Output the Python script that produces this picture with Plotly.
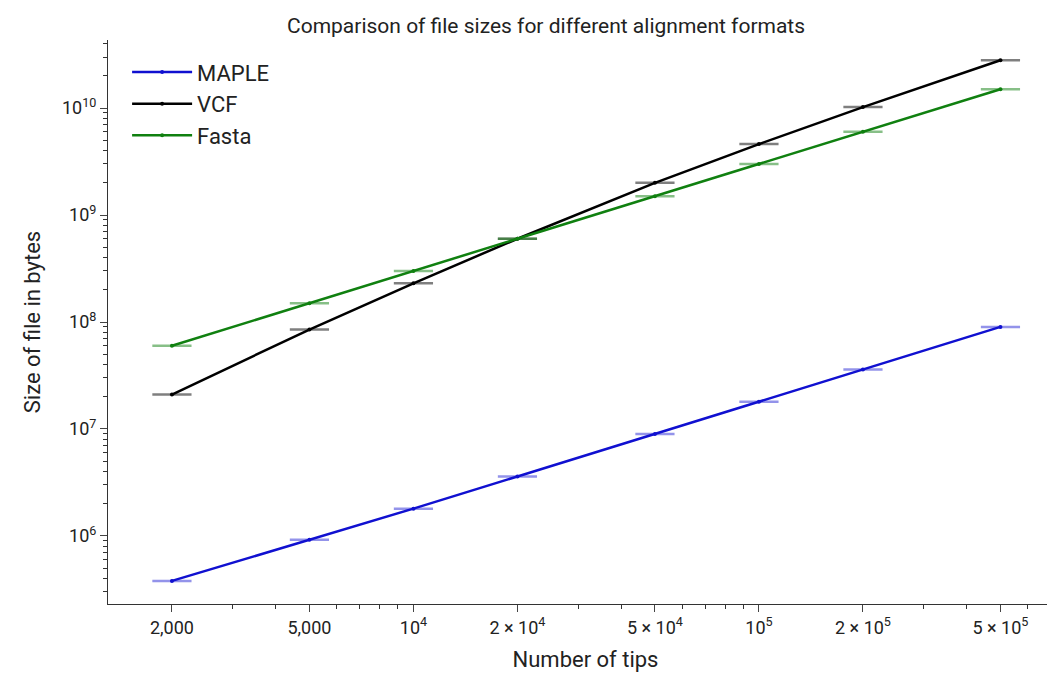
import plotly.graph_objects as go

tips = [2000, 5000, 10000, 20000, 50000, 100000, 200000, 500000]
maple = [3.8e5, 9.2e5, 1.8e6, 3.6e6, 9.0e6, 1.8e7, 3.6e7, 9.0e7]
vcf = [2.1e7, 8.5e7, 2.3e8, 6.0e8, 2.0e9, 4.6e9, 1.02e10, 2.8e10]
fasta = [6.0e7, 1.5e8, 3.0e8, 6.0e8, 1.5e9, 3.0e9, 6.0e9, 1.5e10]
x_ticks = [2000, 5000, 10000, 20000, 50000, 100000, 200000, 500000]
x_labels = ["2,000", "5,000", "10<sup>4</sup>", "2 × 10<sup>4</sup>", "5 × 10<sup>4</sup>",
            "10<sup>5</sup>", "2 × 10<sup>5</sup>", "5 × 10<sup>5</sup>"]
y_ticks = [1e6, 1e7, 1e8, 1e9, 1e10]
y_labels = ["10<sup>6</sup>", "10<sup>7</sup>", "10<sup>8</sup>", "10<sup>9</sup>", "10<sup>10</sup>"]

series = [("MAPLE", maple, "#1010d0", "rgba(16,16,208,0.45)"),
          ("VCF", vcf, "#000000", "rgba(0,0,0,0.5)"),
          ("Fasta", fasta, "#108010", "rgba(16,128,16,0.5)")]

fig = go.Figure()
for name, ys, c, light in series:
    fig.add_trace(go.Scatter(x=tips, y=ys, mode="markers", showlegend=False,
                             marker=dict(symbol="line-ew", size=28, line=dict(color=light, width=2.5))))
for name, ys, c, light in series:
    fig.add_trace(go.Scatter(x=tips, y=ys, mode="lines+markers", name=name,
                             line=dict(color=c, width=2.5), marker=dict(size=4, color=c)))

fig.update_layout(
    width=1055, height=688, plot_bgcolor="white", paper_bgcolor="white",
    font=dict(family="Roboto", size=18, color="#222"),
    title=dict(text="Comparison of file sizes for different alignment formats", x=0.51, y=0.985,
               font=dict(size=21)),
    margin=dict(l=100, r=0, t=32, b=92),
    legend=dict(x=0.02, y=0.98, font=dict(size=22), bgcolor="rgba(0,0,0,0)", tracegroupgap=10,
                itemwidth=60),
    xaxis=dict(type="log", range=[3.116, 5.88], tickvals=x_ticks, ticktext=x_labels,
               showline=True, linecolor="#333", ticks="outside", ticklen=7, showgrid=False,
               minor=dict(ticks="outside", ticklen=4, tickcolor="#333", showgrid=False, dtick="D1"),
               title=dict(text="Number of tips", font=dict(size=22)), zeroline=False),
    yaxis=dict(type="log", range=[5.364, 10.636], tickvals=y_ticks, ticktext=y_labels,
               showline=True, linecolor="#333", ticks="outside", ticklen=7, showgrid=False,
               minor=dict(ticks="outside", ticklen=4, tickcolor="#333", showgrid=False, dtick="D1"),
               title=dict(text="Size of file in bytes", font=dict(size=22)), zeroline=False),
)
fig.write_html("out.html")
